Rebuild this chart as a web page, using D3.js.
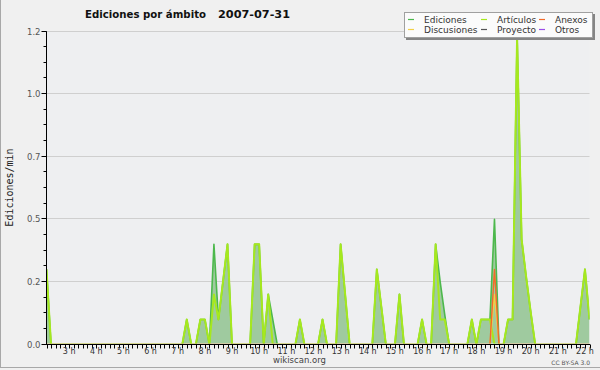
<!doctype html>
<html lang="es">
<head>
<meta charset="utf-8">
<title>Ediciones por ámbito</title>
<style>
body { margin: 0; background: #f0f0f0; }
svg { display: block; font-family: "DejaVu Sans", sans-serif; }
</style>
</head>
<body>
<svg id="chart" width="600" height="370"></svg>
<script src="https://cdn.jsdelivr.net/npm/d3@7/dist/d3.min.js"></script>
<script>
// edits per minute, 10 minute bins from 02:10 to 22:10 (121 points)
var startTime = new Date(2007, 6, 31, 2, 10);
var binMinutes = 10;

var ediciones = [
  0.3, 0, 0, 0, 0, 0, 0, 0, 0, 0,
  0, 0, 0, 0, 0, 0, 0, 0, 0, 0,
  0, 0, 0, 0, 0, 0, 0, 0, 0, 0,
  0, 0.1, 0, 0, 0.1, 0.1, 0, 0.4, 0.1, 0.25,
  0.4, 0, 0, 0, 0, 0, 0.4, 0.4, 0, 0.2,
  0.1, 0, 0, 0, 0, 0, 0.1, 0, 0, 0,
  0, 0.1, 0, 0, 0, 0.4, 0.2, 0, 0, 0,
  0, 0, 0, 0.3, 0.15, 0, 0, 0, 0.2, 0,
  0, 0, 0, 0.1, 0, 0, 0.4, 0.25, 0.12, 0,
  0, 0, 0, 0, 0.1, 0, 0.1, 0.1, 0.1, 0.5,
  0, 0, 0.1, 0.1, 1.23, 0.42, 0.27, 0.13, 0, 0,
  0, 0, 0, 0, 0, 0, 0, 0, 0.15, 0.3,
  0.1
];
var articulos = [
  0.3, 0, 0, 0, 0, 0, 0, 0, 0, 0,
  0, 0, 0, 0, 0, 0, 0, 0, 0, 0,
  0, 0, 0, 0, 0, 0, 0, 0, 0, 0,
  0, 0.1, 0, 0, 0.1, 0.1, 0, 0.2, 0.1, 0.25,
  0.4, 0, 0, 0, 0, 0, 0.4, 0.4, 0, 0.2,
  0, 0, 0, 0, 0, 0, 0.1, 0, 0, 0,
  0, 0.1, 0, 0, 0, 0.4, 0.2, 0, 0, 0,
  0, 0, 0, 0.3, 0.15, 0, 0, 0, 0.2, 0,
  0, 0, 0, 0.1, 0, 0, 0.4, 0.1, 0.1, 0,
  0, 0, 0, 0, 0.1, 0, 0.1, 0.1, 0.1, 0,
  0, 0, 0.1, 0.1, 1.23, 0.42, 0.27, 0.13, 0, 0,
  0, 0, 0, 0, 0, 0, 0, 0, 0.15, 0.3,
  0.1
];
var anexos = [
  0, 0, 0, 0, 0, 0, 0, 0, 0, 0,
  0, 0, 0, 0, 0, 0, 0, 0, 0, 0,
  0, 0, 0, 0, 0, 0, 0, 0, 0, 0,
  0, 0, 0, 0, 0, 0, 0, 0, 0, 0,
  0, 0, 0, 0, 0, 0, 0, 0, 0, 0,
  0, 0, 0, 0, 0, 0, 0, 0, 0, 0,
  0, 0, 0, 0, 0, 0, 0, 0, 0, 0,
  0, 0, 0, 0, 0, 0, 0, 0, 0, 0,
  0, 0, 0, 0, 0, 0, 0, 0, 0, 0,
  0, 0, 0, 0, 0, 0, 0, 0, 0, 0.3,
  0, 0, 0, 0, 0, 0, 0, 0, 0, 0,
  0, 0, 0, 0, 0, 0, 0, 0, 0, 0,
  0
];
var discusiones = [
  0, 0, 0, 0, 0, 0, 0, 0, 0, 0,
  0, 0, 0, 0, 0, 0, 0, 0, 0, 0,
  0, 0, 0, 0, 0, 0, 0, 0, 0, 0,
  0, 0, 0, 0, 0, 0, 0, 0, 0, 0,
  0, 0, 0, 0, 0, 0, 0, 0, 0, 0,
  0, 0, 0, 0, 0, 0, 0, 0, 0, 0,
  0, 0, 0, 0, 0, 0, 0, 0, 0, 0,
  0, 0, 0, 0, 0, 0, 0, 0, 0, 0,
  0, 0, 0, 0, 0, 0, 0, 0, 0, 0,
  0, 0, 0, 0, 0, 0, 0, 0, 0, 0.2,
  0, 0, 0, 0, 0, 0, 0, 0, 0, 0,
  0, 0, 0, 0, 0, 0, 0, 0, 0, 0,
  0
];
var proyecto = [
  0, 0, 0, 0, 0, 0, 0, 0, 0, 0,
  0, 0, 0, 0, 0, 0, 0, 0, 0, 0,
  0, 0, 0, 0, 0, 0, 0, 0, 0, 0,
  0, 0, 0, 0, 0, 0, 0, 0, 0, 0,
  0, 0, 0, 0, 0, 0, 0, 0, 0, 0,
  0, 0, 0, 0, 0, 0, 0, 0, 0, 0,
  0, 0, 0, 0, 0, 0, 0, 0, 0, 0,
  0, 0, 0, 0, 0, 0, 0, 0, 0, 0,
  0, 0, 0, 0, 0, 0, 0, 0, 0, 0,
  0, 0, 0, 0, 0, 0, 0, 0, 0, 0,
  0, 0, 0, 0, 0, 0, 0, 0, 0, 0,
  0, 0, 0, 0, 0, 0, 0, 0, 0, 0,
  0
];
var otros = proyecto.slice(); // no "Otros" edits that day either

var yTickValues = [0, 0.25, 0.5, 0.75, 1, 1.25];
var yTickLabels = ["0.0", "0.2", "0.5", "0.7", "1.0", "1.2"];
var hourTicks = [3, 4, 5, 6, 7, 8, 9, 10, 11, 12, 13, 14, 15, 16, 17, 18, 19, 20, 21, 22];

// legend, in reading order (3 columns x 2 rows)
var legendNames  = ["Ediciones", "Artículos", "Anexos", "Discusiones", "Proyecto", "Otros"];
var legendColors = ["#4cb84c", "#a6e81e", "#f26b2a", "#f2d048", "#555555", "#9b4de8"];

var svg = d3.select("#chart");
var W = 600, H = 370;
var pLeft = 46.5, pRight = 589.5, pTop = 31.5, pBottom = 344.5;

svg.append("rect").attr("width", W).attr("height", H).attr("fill", "#f0f0f0");
svg.append("rect").attr("x", pLeft).attr("y", pTop).attr("width", pRight - pLeft).attr("height", pBottom - pTop)
    .attr("fill", "#eeeff1");
// frame edges
svg.append("line").attr("x1", 0.5).attr("x2", 0.5).attr("y1", 0).attr("y2", 368).attr("stroke", "#a8a8a8");
svg.append("line").attr("x1", 0).attr("x2", W).attr("y1", 367.5).attr("y2", 367.5).attr("stroke", "#a8a8a8");

var endTime = d3.timeMinute.offset(startTime, binMinutes * (ediciones.length - 1));
var x = d3.scaleTime().domain([startTime, endTime]).range([pLeft, pRight]);
var y = d3.scaleLinear().domain([0, 1.25]).range([pBottom, pTop]);

function binTime(i) { return d3.timeMinute.offset(startTime, i * binMinutes); }
function crispY(d) { return Math.round(y(d)) - 0.5; }

// grid
svg.append("g").selectAll("line").data(yTickValues.slice(1)).join("line")
    .attr("x1", pLeft).attr("x2", pRight)
    .attr("y1", crispY).attr("y2", crispY)
    .attr("stroke", "#cfcfcf");

svg.append("clipPath").attr("id", "plot").append("rect")
    .attr("x", pLeft).attr("y", 0).attr("width", pRight - pLeft).attr("height", pBottom - 1);

var plot = svg.append("g").attr("clip-path", "url(#plot)");

var area = d3.area()
    .x(function(d, i) { return x(binTime(i)); })
    .y0(y(0))
    .y1(function(d) { return y(d); });

var line = d3.line()
    .x(function(d, i) { return x(binTime(i)); })
    .y(function(d) { return y(d); });

plot.append("path").datum(ediciones).attr("d", area).attr("fill", "#9fca9f");

var drawn = [
  { values: otros, color: legendColors[5], width: 1.2 },
  { values: proyecto, color: legendColors[4], width: 1.2 },
  { values: ediciones, color: legendColors[0], width: 1.6 },
  { values: articulos, color: legendColors[1], width: 2 },
  { values: discusiones, color: legendColors[3], width: 1.4 },
  { values: anexos, color: legendColors[2], width: 1.4 }
];
drawn.forEach(function(s) {
  plot.append("path").datum(s.values).attr("d", line)
      .attr("fill", "none").attr("stroke", s.color).attr("stroke-width", s.width)
      .attr("stroke-linejoin", "round");
});

// y axis
var yAxis = svg.append("g").attr("transform", "translate(" + pLeft + ",0)");
yAxis.append("line").attr("y1", pTop).attr("y2", pBottom).attr("stroke", "#000");
var minorY = d3.range(0, 1.25 + 1e-9, 1 / 16);
yAxis.selectAll("line.mn").data(minorY).join("line").attr("class", "mn")
    .attr("x1", -3).attr("x2", 0)
    .attr("y1", crispY).attr("y2", crispY)
    .attr("stroke", "#000");
yAxis.selectAll("line.mj").data(yTickValues).join("line").attr("class", "mj")
    .attr("x1", -5).attr("x2", 0)
    .attr("y1", crispY).attr("y2", crispY)
    .attr("stroke", "#000");
yAxis.selectAll("text").data(yTickValues).join("text")
    .attr("x", -6).attr("y", function(d) { return y(d) + 3; })
    .attr("text-anchor", "end").attr("font-size", "8.5px").attr("fill", "#555")
    .text(function(d, i) { return yTickLabels[i]; });

// x axis
var xAxis = svg.append("g");
xAxis.append("line").attr("x1", pLeft - 0.5).attr("x2", pRight + 0.5)
    .attr("y1", pBottom).attr("y2", pBottom).attr("stroke", "#000").attr("stroke-width", 1.2);
xAxis.selectAll("line.tk").data(x.ticks(d3.timeMinute.every(10))).join("line").attr("class", "tk")
    .attr("x1", function(d) { return Math.round(x(d)) + 0.5; })
    .attr("x2", function(d) { return Math.round(x(d)) + 0.5; })
    .attr("y1", pBottom).attr("y2", pBottom + 4)
    .attr("stroke", "#000");
xAxis.selectAll("text").data(hourTicks).join("text")
    .attr("x", function(h) { return x(new Date(2007, 6, 31, h, 0)); })
    .attr("y", 354)
    .attr("text-anchor", "middle").attr("font-size", "8px").attr("fill", "#333")
    .text(function(h) { return h + " h"; });

// axis title
svg.append("text")
    .attr("transform", "translate(12.5,187.5) rotate(-90)")
    .attr("text-anchor", "middle")
    .attr("font-family", "'DejaVu Sans Mono', monospace")
    .attr("font-size", "10px").attr("fill", "#222")
    .text("Ediciones/min");

// title
svg.append("text").attr("x", 85).attr("y", 17.5)
    .attr("font-weight", "bold").attr("font-size", "11px").attr("fill", "#111")
    .attr("textLength", 121).attr("lengthAdjust", "spacingAndGlyphs")
    .text("Ediciones por ámbito");
svg.append("text").attr("x", 218).attr("y", 17.5)
    .attr("font-weight", "bold").attr("font-size", "11px").attr("fill", "#111")
    .attr("textLength", 72).attr("lengthAdjust", "spacingAndGlyphs")
    .text("2007-07-31");

// legend
var lg = svg.append("g");
lg.append("rect").attr("x", 406).attr("y", 14).attr("width", 189).attr("height", 26).attr("fill", "#858585");
lg.append("rect").attr("x", 404.5).attr("y", 12.5).attr("width", 188).attr("height", 25)
    .attr("fill", "#fbfbfb").attr("stroke", "#a0a0a0");
var colLine = [408, 481, 539], colText = [424, 497, 555], rowY = [19.5, 29.5];
legendNames.forEach(function(name, i) {
  var c = i % 3, r = Math.floor(i / 3);
  lg.append("line").attr("x1", colLine[c]).attr("x2", colLine[c] + 6)
      .attr("y1", rowY[r]).attr("y2", rowY[r])
      .attr("stroke", legendColors[i]).attr("stroke-width", 1.2);
  lg.append("text").attr("x", colText[c]).attr("y", rowY[r] + 3)
      .attr("font-size", "9px").attr("fill", "#333").text(name);
});

// footer
svg.append("text").attr("x", 299.5).attr("y", 363).attr("text-anchor", "middle")
    .attr("font-size", "8.5px").attr("fill", "#444").text("wikiscan.org");
svg.append("text").attr("x", 590).attr("y", 364.5).attr("text-anchor", "end")
    .attr("font-size", "6px").attr("fill", "#555").text("CC BY-SA 3.0");
</script>
</body>
</html>
